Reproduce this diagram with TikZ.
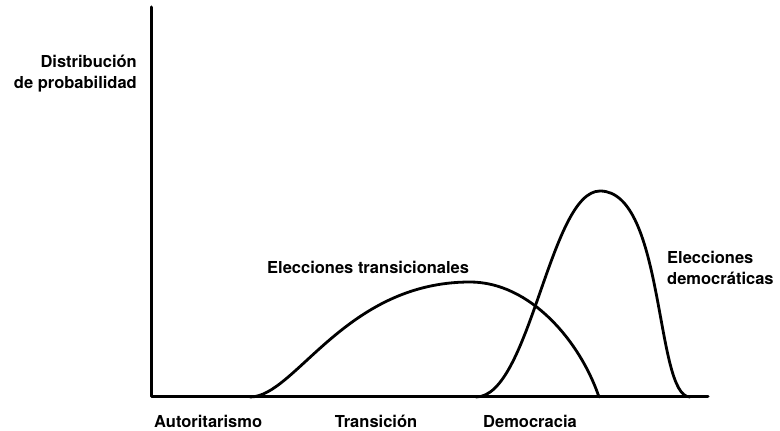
\documentclass[tikz,border=0pt]{standalone}
\usepackage{fontspec}
\setmainfont{TeX Gyre Heros}
\usetikzlibrary{positioning}
\tikzset{lbl/.style={font=\bfseries\fontsize{16.5}{21}\selectfont, inner sep=0pt},
	curva/.style={line width=2.8pt}}

\begin{document}
\begin{tikzpicture}[x=1pt,y=1pt,line join=round,line cap=round]
	\useasboundingbox (0,0) rectangle (780,431);
	\begin{scope}
	\coordinate (ytop) at (151,424);
	\coordinate (o) at (151,34);
	\coordinate (xend) at (708,34);
	\draw[line width=3pt] (ytop) -- (o) -- (xend);
	\node[lbl, align=right, anchor=east] (dist) at (137,357) {Distribución\\de probabilidad};
	\node[lbl, anchor=west] (autor) at (154,10) {Autoritarismo};
	\node[lbl] (trans) at (376,10) {Transición};
	\node[lbl] (democ) at (530,10) {Democracia};
	\end{scope}

	% curvas
	\coordinate (t0) at (250,34);
	\coordinate (tmax) at (470,149);
	\coordinate (t1) at (599,34);
	\draw[curva] (t0) .. controls (295,34) and (345,149) .. (tmax)
		.. controls (530,149) and (580,90) .. (t1);
	\coordinate (d0) at (476,34);
	\coordinate (dmax) at (600,240);
	\coordinate (d1) at (690,34);
	\draw[curva] (d0) .. controls (530,34) and (550,240) .. (dmax)
		.. controls (665,240) and (655,34) .. (d1);

	\node[lbl, anchor=west] (eltrans) at (267,164) {Elecciones transicionales};
	\node[lbl, align=left, anchor=west] (eldemo) at (667,163) {Elecciones\\democráticas};
\end{tikzpicture}
\end{document}
